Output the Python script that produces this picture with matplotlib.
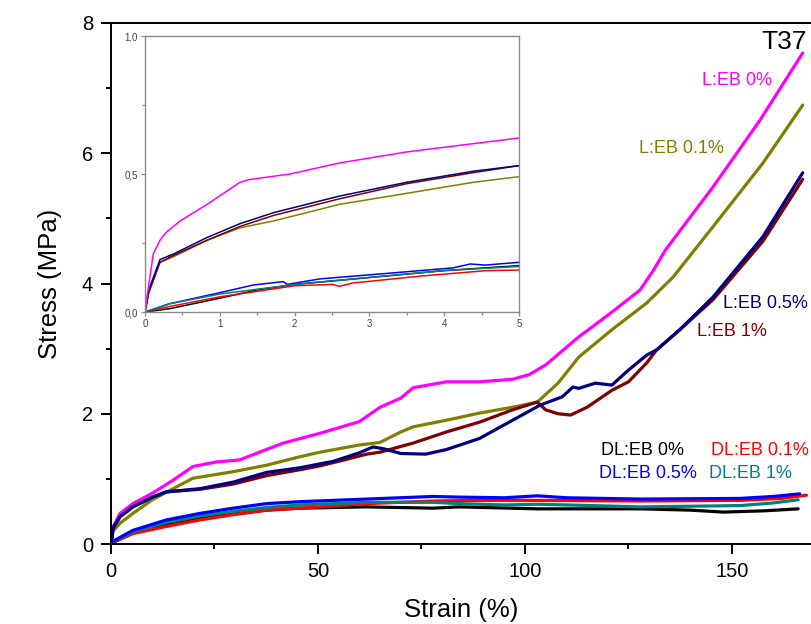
import matplotlib
matplotlib.use("Agg")
import matplotlib.pyplot as plt
from matplotlib.ticker import MultipleLocator, FixedLocator, FixedFormatter

plt.rcParams['font.family'] = ['Liberation Sans', 'DejaVu Sans']

# ---------------- main chart data (strain %, stress MPa) ----------------
l0_s = [0, 0.5, 2.2, 5.3, 10, 15, 19.8, 25.5, 31, 41.6, 50.5, 60, 65, 70, 73, 81, 89, 97, 101, 105, 113, 121, 127.8, 131, 134, 145.4, 156.8, 167.1]
l0_y = [0, 0.26, 0.47, 0.62, 0.78, 0.98, 1.19, 1.26, 1.29, 1.55, 1.70, 1.88, 2.1, 2.24, 2.4, 2.49, 2.49, 2.53, 2.6, 2.75, 3.18, 3.56, 3.9, 4.2, 4.52, 5.48, 6.51, 7.54]

l01_s = [0, 0.5, 2.2, 5.3, 10, 15, 19.8, 29.5, 37.6, 45, 50.5, 60, 65, 70, 73, 81, 89, 97, 103, 108, 113, 121, 129.4, 135.8, 145.4, 157.5, 167.1]
l01_y = [0, 0.2, 0.32, 0.47, 0.68, 0.85, 1.01, 1.11, 1.21, 1.33, 1.41, 1.52, 1.56, 1.72, 1.8, 1.9, 2.01, 2.1, 2.18, 2.47, 2.87, 3.29, 3.7, 4.1, 4.87, 5.85, 6.74]

l05_s = [0, 0.5, 2.2, 5.3, 10, 13.4, 21.5, 29.5, 37.6, 45.6, 53.7, 60, 63.3, 66, 70, 76, 81, 89, 97, 103.6, 109, 111.6, 113, 117, 121, 125, 129.4, 131.8, 137.4, 145.4, 157.5, 167.1]
l05_y = [0, 0.25, 0.42, 0.57, 0.72, 0.8, 0.85, 0.95, 1.1, 1.17, 1.27, 1.4, 1.49, 1.46, 1.39, 1.38, 1.45, 1.62, 1.9, 2.13, 2.26, 2.41, 2.39, 2.47, 2.44, 2.67, 2.9, 2.98, 3.29, 3.79, 4.72, 5.70]

l1_s = [0, 0.5, 2.2, 5.3, 10, 13.4, 21.5, 29.5, 37.6, 45.6, 50.5, 55, 61.8, 65, 73, 81, 89, 97, 103, 105, 108, 111, 115, 121, 125, 129.4, 131.8, 137.4, 145.4, 157.5, 167.1]
l1_y = [0, 0.24, 0.42, 0.57, 0.72, 0.8, 0.84, 0.92, 1.05, 1.14, 1.2, 1.27, 1.38, 1.41, 1.55, 1.72, 1.87, 2.06, 2.18, 2.06, 2.0, 1.98, 2.1, 2.36, 2.49, 2.78, 2.98, 3.29, 3.75, 4.65, 5.6]

dl0_s = [0, 1, 5.3, 13.4, 21.5, 29.5, 37.6, 45.6, 61.8, 77.8, 84, 103, 128, 140, 148, 158, 166]
dl0_y = [0, 0.04, 0.17, 0.3, 0.39, 0.46, 0.52, 0.55, 0.57, 0.55, 0.57, 0.54, 0.54, 0.52, 0.49, 0.51, 0.54]

dl01_s = [0, 1, 5.3, 13.4, 21.5, 29.5, 37.6, 45.6, 61.8, 77.8, 90, 103, 128, 152, 162, 168]
dl01_y = [0, 0.04, 0.16, 0.27, 0.37, 0.45, 0.52, 0.55, 0.62, 0.66, 0.67, 0.67, 0.66, 0.67, 0.7, 0.75]

dl05_s = [0, 1, 5.3, 13.4, 21.5, 29.5, 37.6, 45.6, 61.8, 77.8, 84, 95, 103, 110, 128, 152, 160, 166.4]
dl05_y = [0, 0.06, 0.21, 0.37, 0.47, 0.55, 0.62, 0.65, 0.69, 0.73, 0.72, 0.71, 0.74, 0.71, 0.69, 0.70, 0.73, 0.77]

dl1_s = [0, 1, 5.3, 13.4, 21.5, 29.5, 37.6, 45.6, 61.8, 77.8, 84, 95, 103, 110, 128, 152, 160, 166]
dl1_y = [0, 0.05, 0.19, 0.33, 0.43, 0.5, 0.56, 0.6, 0.64, 0.64, 0.62, 0.6, 0.61, 0.6, 0.57, 0.59, 0.63, 0.68]

# ---------------- inset data (strain 0-5 %) ----------------
in_l0_s = [0, 0.03, 0.11, 0.2, 0.29, 0.47, 0.83, 1.27, 1.4, 1.94, 2.6, 3.5, 4.39, 4.99]
in_l0_y = [0, 0.06, 0.21, 0.26, 0.29, 0.33, 0.39, 0.47, 0.48, 0.50, 0.54, 0.58, 0.61, 0.63]
in_l_s = [0, 0.05, 0.2, 0.38, 0.83, 1.27, 1.72, 2.6, 3.5, 4.39, 4.99]
in_l05_y = [0, 0.08, 0.19, 0.21, 0.27, 0.32, 0.36, 0.42, 0.47, 0.51, 0.53]
in_l1_y = [0, 0.07, 0.18, 0.205, 0.26, 0.31, 0.35, 0.41, 0.465, 0.505, 0.53]
in_l01_y = [0, 0.07, 0.18, 0.2, 0.26, 0.305, 0.33, 0.39, 0.43, 0.47, 0.49]
in_dl05_s = [0, 0.33, 1.0, 1.45, 1.85, 1.9, 2.34, 3.24, 4.12, 4.35, 4.55, 5]
in_dl05_y = [0, 0.03, 0.07, 0.098, 0.11, 0.1, 0.12, 0.14, 0.16, 0.174, 0.17, 0.18]
in_dl1_s = [0, 0.33, 1, 2, 3, 4, 5]
in_dl1_y = [0, 0.03, 0.065, 0.10, 0.125, 0.15, 0.165]
in_dl01_s = [0, 0.33, 1, 2, 2.5, 2.6, 2.78, 3.68, 4.57, 5]
in_dl01_y = [0, 0.02, 0.055, 0.095, 0.10, 0.093, 0.105, 0.13, 0.15, 0.152]
in_dl0_s = [0, 0.33, 1, 1.5, 2, 3, 4, 5]
in_dl0_y = [0, 0.012, 0.05, 0.08, 0.1, 0.125, 0.15, 0.168]

labels = ['L:EB 0%', 'L:EB 0.1%', 'L:EB 0.5%', 'L:EB 1%',
          'DL:EB 0%', 'DL:EB 0.1%', 'DL:EB 0.5%', 'DL:EB 1%']
colors = ['#FF00FF', '#808000', '#000080', '#800000',
          '#000000', '#FF0000', '#0000FF', '#008080']

fig = plt.figure(figsize=(8.11, 6.24), dpi=100)
ax = fig.add_axes([111/811, 80/624, 700/811, 521/624])

main_series = [
    (dl0_s, dl0_y, 4), (dl01_s, dl01_y, 5), (dl1_s, dl1_y, 7), (dl05_s, dl05_y, 6),
    (l01_s, l01_y, 1), (l0_s, l0_y, 0), (l1_s, l1_y, 3), (l05_s, l05_y, 2),
]
for xs, ys, ci in main_series:
    ax.plot(xs, ys, color=colors[ci], lw=2.3, solid_capstyle='round')

ax.set_xlim(0, 169.1)
ax.set_ylim(0, 8)
ax.xaxis.set_major_locator(MultipleLocator(50))
ax.xaxis.set_minor_locator(MultipleLocator(25))
ax.yaxis.set_major_locator(MultipleLocator(2))
ax.yaxis.set_minor_locator(MultipleLocator(1))
ax.tick_params(which='major', direction='out', length=7, width=1.4, labelsize=14.5, pad=6)
ax.tick_params(which='minor', direction='out', length=3.8, width=1.4)
ax.tick_params(top=False, right=False, which='both')
for sp in ['left', 'bottom', 'top']:
    ax.spines[sp].set_linewidth(1.4)
ax.spines['right'].set_visible(False)
ax.set_xlabel('Strain (%)', fontsize=18.5, labelpad=12)
ax.set_ylabel('Stress (MPa)', fontsize=18.5, labelpad=14)

# labels
ax.text(168.0, 7.6, 'T37', fontsize=19, ha='right', va='baseline', color='black')
txt_pos = [(151.2, 7.11), (137.7, 6.08), (158.2, 3.70), (150.0, 3.27),
           (128.3, 1.44), (156.7, 1.44), (129.8, 1.09), (154.4, 1.09)]
for (tx, ty), lab, c in zip(txt_pos, labels, colors):
    ax.text(tx, ty, lab, fontsize=13, color=c, ha='center', va='center')

# ---------------- inset ----------------
gray = '#8a8a8a'
ins = fig.add_axes([145/811, 312/624, 374/811, 276/624])
inset_series = [
    (in_dl0_s, in_dl0_y, 4), (in_dl01_s, in_dl01_y, 5), (in_dl05_s, in_dl05_y, 6), (in_dl1_s, in_dl1_y, 7),
    (in_l_s, in_l01_y, 1), (in_l_s, in_l1_y, 3), (in_l_s, in_l05_y, 2), (in_l0_s, in_l0_y, 0),
]
for xs, ys, ci in inset_series:
    ins.plot(xs, ys, color=colors[ci], lw=1.1)
ins.set_xlim(0, 5)
ins.set_ylim(0, 1.0)
ins.xaxis.set_major_locator(MultipleLocator(1))
ins.xaxis.set_minor_locator(MultipleLocator(0.5))
ins.yaxis.set_major_locator(FixedLocator([0, 0.5, 1.0]))
ins.yaxis.set_major_formatter(FixedFormatter(['0,0', '0,5', '1,0']))
ins.yaxis.set_minor_locator(FixedLocator([0.25, 0.75]))
ins.tick_params(which='both', direction='out', color=gray, width=0.9, labelsize=7, labelcolor='#444444', pad=2)
ins.tick_params(which='major', length=3)
ins.tick_params(which='minor', length=2.5)
for sp in ins.spines.values():
    sp.set_color(gray)
    sp.set_linewidth(1.0)

fig.savefig('out.png', dpi=100)
